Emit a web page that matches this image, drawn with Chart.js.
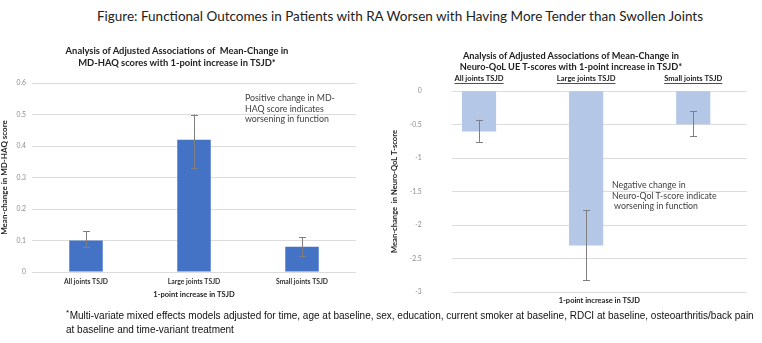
<!DOCTYPE html>
<html><head><meta charset="utf-8">
<script src="https://cdn.jsdelivr.net/npm/chart.js@4"></script>
<style>
html,body{margin:0;padding:0;background:#fff;width:762px;height:343px;overflow:hidden;}
#wrap{position:relative;width:762px;height:343px;}
.abs{position:absolute;white-space:pre;color:#404040;}
#main{left:0;width:762px;top:8px;text-align:center;font:13.5px Lato, "Open Sans", sans-serif;color:#222;padding-left:38px;box-sizing:border-box;}
.ct{font:bold 9.4px Lato, sans-serif;color:#222;text-align:center;line-height:12px;}
.ann{font:8.8px Lato, sans-serif;color:#404040;line-height:10.6px;}
#foot{left:66px;top:309px;font:10px "Liberation Sans",Arial,sans-serif;color:#111;line-height:14.3px;}
#foot sup{font-size:8px;position:relative;top:-3px;vertical-align:top;margin-right:0.5px;}
canvas{position:absolute;top:0;}
</style></head>
<body><div id="wrap">
<div id="main" class="abs">Figure: Functional Outcomes in Patients with RA Worsen with Having More Tender than Swollen Joints</div>
<canvas id="c1" width="380" height="343" style="left:0;width:380px;height:343px"></canvas>
<canvas id="c2" width="382" height="343" style="left:380px;width:382px;height:343px"></canvas>
<div class="abs ct" style="left:27px;width:300px;top:44.5px">Analysis of Adjusted Associations of  Mean-Change in
MD-HAQ scores with 1-point increase in TSJD*</div>
<div class="abs ct" style="left:421px;width:300px;top:49.5px;line-height:11px;font-size:9.2px">Analysis of Adjusted Associations of Mean-Change in
Neuro-QoL UE T-scores with 1-point increase in TSJD*</div>
<div class="abs ann" style="left:245px;top:93px">Positive change in MD-
HAQ score indicates
worsening in function</div>
<div class="abs ann" style="left:612px;top:180px">Negative change in
Neuro-Qol T-score indicate
 worsening in function</div>
<div id="foot" class="abs"><sup>*</sup>Multi-variate mixed effects models adjusted for time, age at baseline, sex, education, current smoker at baseline, RDCI at baseline, osteoarthritis/back pain
at baseline and time-variant treatment</div>
</div>
<script>
// ---- data ----
const categories = ["All joints TSJD", "Large joints TSJD", "Small joints TSJD"];
const haqValues = [0.10, 0.42, 0.08];
const haqErrLow = [0.08, 0.33, 0.05];
const haqErrHigh = [0.13, 0.50, 0.11];
const qolValues = [-0.60, -2.30, -0.49];
const qolErrLow = [-0.76, -2.82, -0.67];
const qolErrHigh = [-0.43, -1.78, -0.30];
const haqTicks = {min: 0, max: 0.6, step: 0.1};
const qolTicks = {min: -3, max: 0, step: 0.5};
const xAxisTitle = "1-point increase in TSJD";

Chart.defaults.font.family = "Lato, sans-serif";
Chart.defaults.animation = false;
const fmt = v => String(+Number(v).toFixed(2));

function errorBars(low, high) {
  return {
    id: 'errbars',
    afterDatasetsDraw(chart) {
      const ctx = chart.ctx, meta = chart.getDatasetMeta(0), ys = chart.scales.y;
      ctx.save();
      ctx.strokeStyle = '#7f7f7f'; ctx.lineWidth = 1;
      meta.data.forEach((el, i) => {
        const x = Math.round(el.x) + 0.5;
        const y1 = ys.getPixelForValue(low[i]), y2 = ys.getPixelForValue(high[i]);
        ctx.beginPath();
        ctx.moveTo(x, y1); ctx.lineTo(x, y2);
        ctx.moveTo(x - 3.5, Math.round(y1) + 0.5); ctx.lineTo(x + 3.5, Math.round(y1) + 0.5);
        ctx.moveTo(x - 3.5, Math.round(y2) + 0.5); ctx.lineTo(x + 3.5, Math.round(y2) + 0.5);
        ctx.stroke();
      });
      ctx.restore();
    }
  };
}

// ---- left chart ----
new Chart(document.getElementById('c1'), {
  type: 'bar',
  data: { labels: categories, datasets: [{ data: haqValues, backgroundColor: '#4472C4',
    categoryPercentage: 1, barPercentage: 0.31 }] },
  options: {
    responsive: false,
    layout: { padding: { left: 0, right: 24, top: 83, bottom: 44 } },
    plugins: { legend: { display: false }, tooltip: { enabled: false } },
    scales: {
      x: {
        grid: { display: false, drawTicks: false }, border: { display: false },
        ticks: { font: { size: 6.8, weight: 'bold' }, color: '#333', padding: 6 },
        title: { display: true, text: xAxisTitle, font: { size: 7.5, weight: 'bold' }, color: '#222', padding: 0 },
        afterFit(s) { s.height = 27; }
      },
      y: {
        min: haqTicks.min, max: haqTicks.max,
        ticks: { stepSize: haqTicks.step, callback: fmt, font: { size: 6.8 }, color: '#8c8c8c', padding: 6 },
        grid: { color: '#dcdcdc', drawTicks: false }, border: { display: false },
        title: { display: true, text: 'Mean-change in MD-HAQ score', font: { size: 8, weight: 'bold' }, color: '#222', padding: 0 },
        afterFit(s) { s.width = 32; }
      }
    }
  },
  plugins: [errorBars(haqErrLow, haqErrHigh)]
});

// ---- right chart ----
const underline = {
  id: 'underline',
  afterDraw(chart) {
    const s = chart.scales.x, ctx = chart.ctx;
    ctx.save();
    ctx.font = 'bold 7.6px Lato, sans-serif';
    ctx.strokeStyle = '#222'; ctx.lineWidth = 0.8;
    s.ticks.forEach((t) => {
      const w = ctx.measureText(categories[t.value]).width;
      const x = s.getPixelForValue(t.value), y = chart.chartArea.top - 7.5;
      ctx.beginPath(); ctx.moveTo(x - w / 2, y); ctx.lineTo(x + w / 2, y); ctx.stroke();
    });
    ctx.restore();
  }
};
new Chart(document.getElementById('c2'), {
  type: 'bar',
  data: { datasets: [{ data: categories.map((c, i) => ({ x: i, y: qolValues[i] })),
    backgroundColor: '#B4C7E7', barThickness: 33.5 }] },
  options: {
    responsive: false,
    layout: { padding: { left: 0, right: 15, top: 71, bottom: 38 } },
    plugins: { legend: { display: false }, tooltip: { enabled: false } },
    scales: {
      x: {
        type: 'linear', position: 'top', min: -0.255, max: 2.502, offset: false,
        grid: { display: false, drawTicks: false, offset: false }, border: { display: false },
        afterBuildTicks(s) { s.ticks = categories.map((c, i) => ({ value: i })); },
        ticks: { callback: v => categories[v], font: { size: 7.6, weight: 'bold' }, color: '#222', padding: 8, maxRotation: 0, autoSkip: false },
        afterFit(s) { s.height = 20; }
      },
      x2: {
        type: 'linear', position: 'bottom', min: 0, max: 1,
        grid: { display: false }, border: { display: false },
        ticks: { display: false },
        title: { display: true, text: xAxisTitle, font: { size: 7.5, weight: 'bold' }, color: '#222', padding: 0 },
        afterFit(s) { s.height = 13; }
      },
      y: {
        min: qolTicks.min, max: qolTicks.max,
        ticks: { stepSize: qolTicks.step, callback: fmt, font: { size: 6.8 }, color: '#8c8c8c', padding: 30 },
        grid: { color: '#dcdcdc', drawTicks: false }, border: { display: false },
        title: { display: true, text: 'Mean-change  in Neuro-QoL T-score', font: { size: 7.6, weight: 'bold' }, color: '#222', padding: { top: 10, bottom: 0 } },
        afterFit(s) { s.width = 71.7; }
      }
    }
  },
  plugins: [errorBars(qolErrLow, qolErrHigh), underline]
});
</script>
</body></html>
